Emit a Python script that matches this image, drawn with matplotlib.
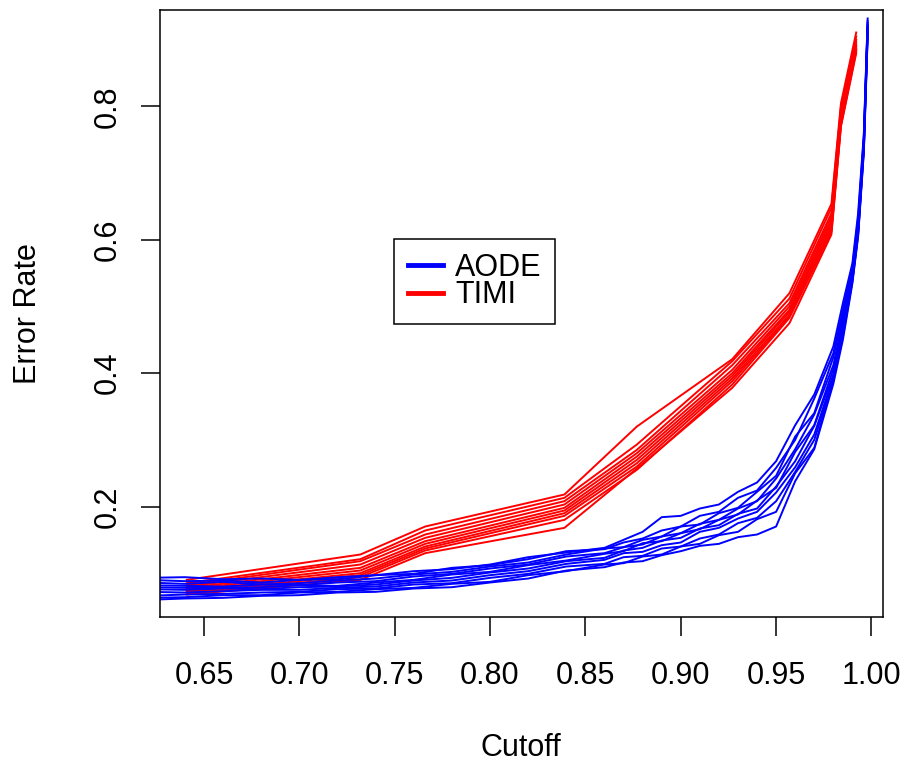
import matplotlib
matplotlib.use("Agg")
import matplotlib.pyplot as plt
from matplotlib.lines import Line2D

plt.rcParams['font.family'] = ['Liberation Sans', 'DejaVu Sans']

# TIMI curves: cutoff knots and error rates (10 runs)
timi_x = [0.641, 0.732, 0.766, 0.839, 0.877, 0.927, 0.957, 0.979, 0.984, 0.992]
timi_runs = [
    [0.090, 0.128, 0.170, 0.218, 0.320, 0.421, 0.520, 0.654, 0.805, 0.911],
    [0.085, 0.121, 0.164, 0.213, 0.293, 0.418, 0.512, 0.648, 0.800, 0.905],
    [0.082, 0.118, 0.158, 0.208, 0.285, 0.412, 0.505, 0.640, 0.795, 0.900],
    [0.080, 0.113, 0.153, 0.203, 0.280, 0.405, 0.500, 0.635, 0.790, 0.896],
    [0.078, 0.108, 0.148, 0.198, 0.275, 0.400, 0.495, 0.630, 0.786, 0.892],
    [0.076, 0.104, 0.144, 0.194, 0.270, 0.396, 0.492, 0.625, 0.782, 0.890],
    [0.074, 0.100, 0.140, 0.190, 0.265, 0.392, 0.488, 0.620, 0.778, 0.887],
    [0.072, 0.097, 0.137, 0.186, 0.260, 0.388, 0.485, 0.615, 0.775, 0.885],
    [0.070, 0.094, 0.134, 0.180, 0.255, 0.383, 0.483, 0.612, 0.772, 0.883],
    [0.068, 0.090, 0.130, 0.168, 0.257, 0.378, 0.475, 0.608, 0.770, 0.880],
]

# AODE curves (10 runs)
aode_x = [0.620, 0.640, 0.660, 0.680, 0.700, 0.720, 0.740, 0.760, 0.780, 0.800,
          0.820, 0.840, 0.860, 0.870, 0.880, 0.890, 0.900, 0.910, 0.920, 0.930,
          0.940, 0.950, 0.960, 0.970, 0.980, 0.985, 0.990, 0.993, 0.996, 0.998]
aode_runs = [
    [0.093, 0.094, 0.091, 0.092, 0.090, 0.094, 0.097, 0.103, 0.106, 0.113, 0.124, 0.131, 0.138, 0.150, 0.162,
     0.184, 0.186, 0.197, 0.203, 0.222, 0.236, 0.268, 0.322, 0.368, 0.440, 0.505, 0.565, 0.640, 0.760, 0.932],
    [0.090, 0.088, 0.089, 0.086, 0.090, 0.091, 0.097, 0.099, 0.108, 0.112, 0.121, 0.133, 0.136, 0.146, 0.152,
     0.164, 0.170, 0.186, 0.192, 0.213, 0.224, 0.258, 0.300, 0.362, 0.430, 0.495, 0.560, 0.632, 0.755, 0.928],
    [0.086, 0.084, 0.087, 0.083, 0.085, 0.089, 0.092, 0.098, 0.102, 0.110, 0.116, 0.128, 0.137, 0.139, 0.150,
     0.155, 0.170, 0.173, 0.190, 0.198, 0.222, 0.246, 0.305, 0.340, 0.424, 0.488, 0.555, 0.625, 0.750, 0.925],
    [0.082, 0.081, 0.080, 0.083, 0.082, 0.086, 0.088, 0.095, 0.099, 0.107, 0.113, 0.125, 0.130, 0.139, 0.143,
     0.155, 0.160, 0.174, 0.180, 0.197, 0.208, 0.242, 0.286, 0.338, 0.412, 0.480, 0.552, 0.622, 0.748, 0.922],
    [0.079, 0.078, 0.078, 0.079, 0.082, 0.081, 0.086, 0.090, 0.098, 0.102, 0.112, 0.119, 0.129, 0.133, 0.145,
     0.148, 0.160, 0.166, 0.180, 0.188, 0.209, 0.228, 0.282, 0.322, 0.406, 0.472, 0.548, 0.618, 0.745, 0.920],
    [0.076, 0.075, 0.077, 0.076, 0.079, 0.080, 0.083, 0.089, 0.093, 0.101, 0.107, 0.118, 0.123, 0.134, 0.138,
     0.149, 0.153, 0.167, 0.172, 0.189, 0.197, 0.230, 0.268, 0.321, 0.398, 0.468, 0.545, 0.615, 0.742, 0.918],
    [0.072, 0.071, 0.073, 0.075, 0.075, 0.078, 0.080, 0.086, 0.089, 0.097, 0.103, 0.114, 0.120, 0.130, 0.132,
     0.142, 0.146, 0.162, 0.168, 0.182, 0.192, 0.221, 0.259, 0.308, 0.394, 0.462, 0.542, 0.612, 0.740, 0.915],
    [0.066, 0.068, 0.069, 0.071, 0.072, 0.076, 0.077, 0.083, 0.085, 0.093, 0.099, 0.110, 0.114, 0.124, 0.126,
     0.137, 0.140, 0.152, 0.158, 0.175, 0.183, 0.208, 0.252, 0.300, 0.390, 0.458, 0.540, 0.610, 0.738, 0.912],
    [0.063, 0.064, 0.067, 0.067, 0.071, 0.072, 0.076, 0.078, 0.084, 0.087, 0.097, 0.103, 0.113, 0.115, 0.125,
     0.128, 0.140, 0.144, 0.157, 0.162, 0.181, 0.192, 0.250, 0.288, 0.389, 0.455, 0.538, 0.608, 0.735, 0.910],
    [0.060, 0.062, 0.063, 0.066, 0.067, 0.071, 0.072, 0.077, 0.079, 0.086, 0.092, 0.104, 0.109, 0.116, 0.118,
     0.127, 0.133, 0.141, 0.144, 0.154, 0.158, 0.170, 0.238, 0.286, 0.384, 0.450, 0.535, 0.605, 0.732, 0.905],
]

xticks = [0.65, 0.70, 0.75, 0.80, 0.85, 0.90, 0.95, 1.00]
yticks = [0.2, 0.4, 0.6, 0.8]

W, H = 904, 771
fig = plt.figure(figsize=(W / 100, H / 100), dpi=100)
ax = fig.add_axes([160 / W, 1 - 617 / H, (883 - 160) / W, (617 - 10) / H])

for y in timi_runs:
    ax.plot(timi_x, y, color='red', lw=1.4)
for y in aode_runs:
    ax.plot(aode_x, y, color='blue', lw=1.4)

# R-style limits: data range of TIMI extended 4%
x0, x1 = min(timi_x), max(timi_x)
y0 = min(min(r) for r in timi_runs)
y1 = max(max(r) for r in timi_runs)
dx, dy = 0.04 * (x1 - x0), 0.04 * (y1 - y0)
ax.set_xlim(x0 - dx, x1 + dx)
ax.set_ylim(y0 - dy, y1 + dy)

ax.set_xticks(xticks)
ax.set_xticklabels([f"{v:.2f}" for v in xticks])
ax.set_yticks(yticks)
ax.set_yticklabels([f"{v:.1f}" for v in yticks], rotation=90, va='center')
ax.tick_params(axis='both', length=14, width=1.1, labelsize=22)
ax.tick_params(axis='x', pad=17.5)
ax.tick_params(axis='y', pad=13)
for s in ax.spines.values():
    s.set_linewidth(1.1)

fig.text(521 / W, 1 - 748 / H, 'Cutoff', ha='center', va='center', fontsize=22)
fig.text(28 / W, 1 - 314 / H, 'Error Rate', ha='center', va='center', fontsize=22, rotation=90)

handles = [Line2D([], [], color='blue', lw=3.5), Line2D([], [], color='red', lw=3.5)]
leg = ax.legend(handles, ['AODE', 'TIMI'], loc='upper left',
                bbox_to_anchor=((394 - 160) / (883 - 160), (617 - 239) / (617 - 10)),
                borderaxespad=0, fontsize=22, fancybox=False, framealpha=1,
                edgecolor='black', handlelength=1.15, handletextpad=0.4,
                labelspacing=-0.08, borderpad=0.45)
leg.get_frame().set_linewidth(1.1)

fig.savefig('out.png', dpi=100)
